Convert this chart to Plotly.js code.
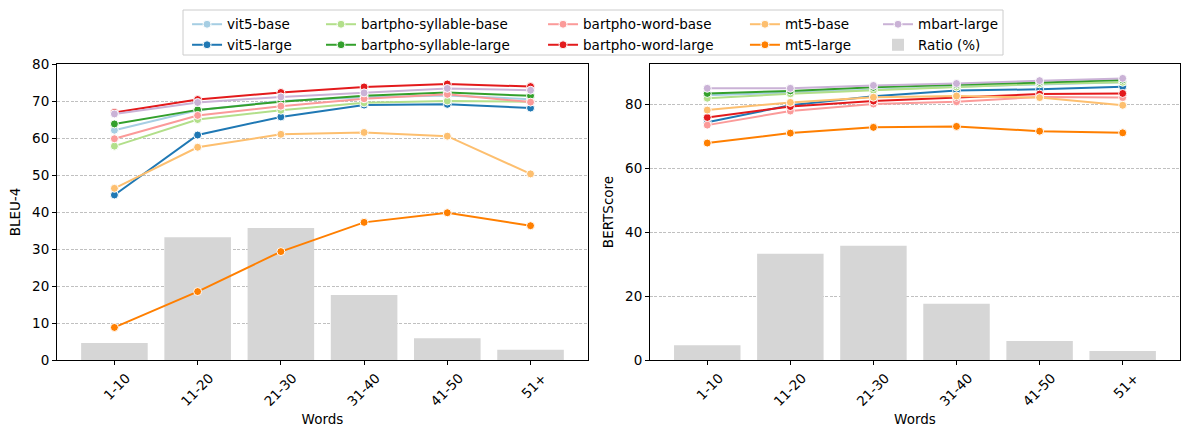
<!DOCTYPE html>
<html>
<head>
<meta charset="utf-8">
<script src="https://cdn.plot.ly/plotly-3.0.1.min.js"></script>
<style>
  html, body { margin: 0; padding: 0; background: #fff; }
  #chart { width: 1189px; height: 438px; }
</style>
</head>
<body>
<div id="chart"></div>
<script>
// word-length buckets
const categories = ['1-10', '11-20', '21-30', '31-40', '41-50', '51+'];
const ratio = [4.6, 33.2, 35.7, 17.6, 5.9, 2.8];

const models = ['vit5-base', 'vit5-large', 'bartpho-syllable-base', 'bartpho-syllable-large',
    'bartpho-word-base', 'bartpho-word-large', 'mt5-base', 'mt5-large', 'mbart-large'];
const colors = ['#a6cee3', '#1f78b4', '#b2df8a', '#33a02c', '#fb9a99', '#e31a1c', '#fdbf6f', '#ff7f00', '#cab2d6'];

// BLEU-4 per bucket
const bleuVit5Base = [62.1, 67.5, 70.0, 71.0, 71.5, 70.5];
const bleuVit5Large = [44.6, 60.8, 65.7, 68.9, 69.1, 68.1];
const bleuSylBase = [57.8, 65.0, 67.5, 69.5, 70.0, 69.8];
const bleuSylLarge = [63.8, 67.6, 69.8, 71.4, 72.3, 71.4];
const bleuWordBase = [59.8, 66.1, 68.6, 70.6, 71.8, 69.7];
const bleuWordLarge = [66.9, 70.4, 72.3, 73.8, 74.6, 73.9];
const bleuMt5Base = [46.4, 57.5, 61.0, 61.5, 60.5, 50.3];
const bleuMt5Large = [8.8, 18.5, 29.3, 37.2, 39.8, 36.3];
const bleuMbart = [66.5, 69.6, 71.1, 72.2, 73.4, 72.9];

// BERTScore per bucket
const bertVit5Base = [82.7, 83.6, 84.6, 85.4, 86.1, 86.8];
const bertVit5Large = [74.3, 79.6, 82.4, 84.2, 84.6, 85.4];
const bertSylBase = [81.8, 83.2, 84.3, 85.3, 86.3, 86.8];
const bertSylLarge = [83.3, 84.1, 85.2, 86.0, 86.8, 87.5];
const bertWordBase = [73.4, 77.8, 80.0, 80.7, 82.2, 82.0];
const bertWordLarge = [75.8, 79.2, 80.9, 82.1, 83.1, 83.3];
const bertMt5Base = [78.1, 80.5, 82.1, 82.5, 82.0, 79.6];
const bertMt5Large = [67.8, 70.9, 72.7, 73.0, 71.5, 71.0];
const bertMbart = [84.9, 84.9, 85.8, 86.4, 87.3, 88.0];

const bleu = [bleuVit5Base, bleuVit5Large, bleuSylBase, bleuSylLarge, bleuWordBase,
    bleuWordLarge, bleuMt5Base, bleuMt5Large, bleuMbart];
const bert = [bertVit5Base, bertVit5Large, bertSylBase, bertSylLarge, bertWordBase,
    bertWordLarge, bertMt5Base, bertMt5Large, bertMbart];

// which legend column each model goes in (matplotlib ncol=5 fills column-wise)
const legendOf = ['legend', 'legend', 'legend2', 'legend2', 'legend3', 'legend3', 'legend4', 'legend4', 'legend5'];

const font = { family: 'DejaVu Sans, sans-serif', size: 13.5, color: '#000' };

const traces = [];
[['x', 'y', bleu, true], ['x2', 'y2', bert, false]].forEach(([xa, ya, vals, withLegend]) => {
    traces.push({
        type: 'bar', x: categories, y: ratio, xaxis: xa, yaxis: ya,
        name: 'Ratio (%)', width: 0.8,
        marker: { color: '#d6d6d6' },
        showlegend: withLegend, legend: 'legend5', legendrank: 2000,
    });
    models.forEach((m, i) => {
        traces.push({
            type: 'scatter', mode: 'lines+markers', x: categories, y: vals[i],
            xaxis: xa, yaxis: ya, name: m,
            line: { color: colors[i], width: 2 },
            marker: { color: colors[i], size: 8, line: { color: '#fff', width: 1 } },
            showlegend: withLegend, legend: legendOf[i], legendrank: 1000,
        });
    });
});

const xAxisBase = {
    type: 'category', range: [-0.69, 5.69],
    showline: true, mirror: true, linecolor: '#000', linewidth: 1,
    ticks: 'outside', ticklen: 4, tickcolor: '#000', tickangle: -45,
    ticklabelshift: 12,
    showgrid: false, zeroline: false,
    tickfont: font,
    title: { text: 'Words', font: font, standoff: 6 },
};
const yAxisBase = {
    showline: true, mirror: true, linecolor: '#000', linewidth: 1,
    ticks: 'outside', ticklen: 4, tickcolor: '#000',
    showgrid: true, gridcolor: '#b0b0b0', griddash: '3px,1.5px', gridwidth: 0.8,
    zeroline: false, tickfont: font,
};

const legendBase = {
    orientation: 'v', xanchor: 'left', yanchor: 'top', y: 1.186,
    bgcolor: 'rgba(0,0,0,0)', borderwidth: 0, font: font,
    itemwidth: 30, traceorder: 'normal',
};

const layout = {
    width: 1189, height: 438,
    margin: { l: 57, r: 9, t: 64, b: 78 },
    paper_bgcolor: '#fff', plot_bgcolor: '#fff',
    font: font,
    barmode: 'overlay',
    xaxis: Object.assign({}, xAxisBase, { domain: [0, 0.4728], anchor: 'y' }),
    xaxis2: Object.assign({}, xAxisBase, { domain: [0.528, 1], anchor: 'y2' }),
    yaxis: Object.assign({}, yAxisBase, { range: [0, 80], dtick: 10, anchor: 'x',
        title: { text: 'BLEU-4', font: font, standoff: 8 } }),
    yaxis2: Object.assign({}, yAxisBase, { range: [0, 92.5], dtick: 20, anchor: 'x2',
        title: { text: 'BERTScore', font: font, standoff: 8 } }),
    legend: Object.assign({}, legendBase, { x: 0.1158 }),
    legend2: Object.assign({}, legendBase, { x: 0.2351 }),
    legend3: Object.assign({}, legendBase, { x: 0.4328 }),
    legend4: Object.assign({}, legendBase, { x: 0.6126 }),
    legend5: Object.assign({}, legendBase, { x: 0.7311 }),
    shapes: [{
        type: 'rect', xref: 'paper', yref: 'paper',
        x0: 0.1122, x1: 0.8424, y0: 1.0304, y1: 1.1824,
        line: { color: '#cccccc', width: 1 }, fillcolor: 'rgba(255,255,255,0.8)', layer: 'below',
    }],
};

Plotly.newPlot('chart', traces, layout, { staticPlot: true, displayModeBar: false });
</script>
</body>
</html>
